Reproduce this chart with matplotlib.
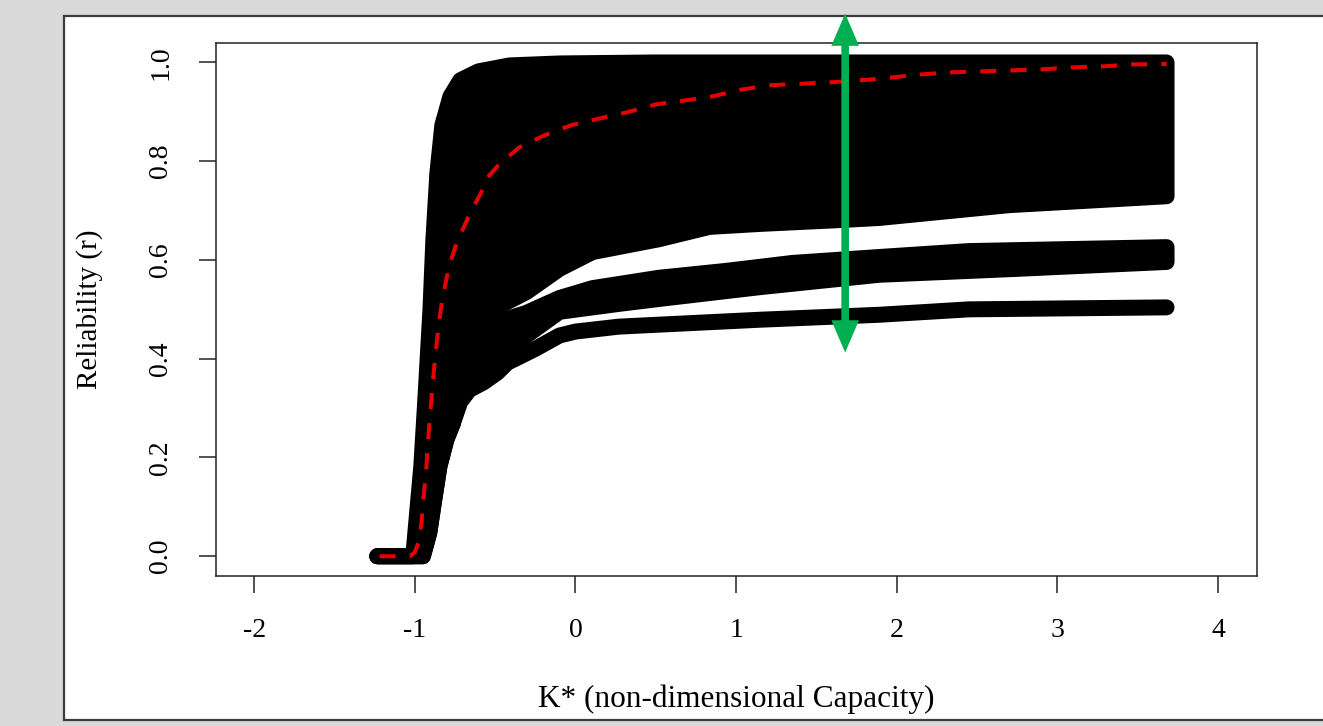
import numpy as np
import matplotlib
matplotlib.use("Agg")
import matplotlib.pyplot as plt
from matplotlib.patches import Rectangle

# ---------------- data ----------------
# Upper envelope of the family of reliability curves
K_top = [-1.234, -1.01, -0.997, -0.96, -0.935, -0.903, -0.885, -0.860, -0.829,
         -0.779, -0.717, -0.604, -0.411, -0.1, 0.5, 1.5, 2.5, 3.68]
r_top = [0.0, 0.0, 0.048, 0.182, 0.317, 0.50, 0.640, 0.776, 0.873,
         0.931, 0.964, 0.982, 0.994, 0.998, 1.0, 1.0, 1.0, 1.0]

# Lower edge of the main (upper) group of curves
K_main_low = [-1.234, -0.95, -0.91, -0.879, -0.847, -0.804, -0.766, -0.717, -0.66,
              -0.573, -0.46, -0.305, -0.1, 0.106, 0.52, 0.835, 1.15, 1.66, 1.89,
              2.70, 3.68]
r_main_low = [0.0, 0.0, 0.048, 0.115, 0.182, 0.236, 0.267, 0.37, 0.42,
              0.465, 0.509, 0.535, 0.582, 0.616, 0.642, 0.667, 0.673, 0.681, 0.685,
              0.711, 0.729]

# Middle group of curves (upper and lower edge)
K_mid_high = [-0.766, -0.717, -0.66, -0.573, -0.46, -0.305, -0.1, 0.106, 0.52,
              0.94, 1.35, 1.89, 2.45, 3.68]
r_mid_high = [0.267, 0.36, 0.40, 0.44, 0.477, 0.493, 0.523, 0.543, 0.564,
              0.578, 0.594, 0.606, 0.618, 0.626]
K_mid_low = [-0.766, -0.717, -0.66, -0.573, -0.486, -0.36, -0.1, 0.27, 0.52,
             1.15, 1.89, 2.75, 3.68]
r_mid_low = [0.267, 0.33, 0.355, 0.375, 0.40, 0.434, 0.495, 0.511, 0.521,
             0.545, 0.570, 0.582, 0.596]

# Lowest curve
K_bottom = [-1.234, -0.95, -0.91, -0.879, -0.847, -0.804, -0.766, -0.717, -0.66,
            -0.573, -0.486, -0.424, -0.361, -0.25, -0.1, 0.0, 0.27, 0.52, 1.15,
            1.89, 2.45, 3.68]
r_bottom = [0.0, 0.0, 0.048, 0.115, 0.182, 0.236, 0.267, 0.313, 0.337,
            0.352, 0.372, 0.392, 0.402, 0.42, 0.447, 0.455, 0.465, 0.469, 0.479,
            0.489, 0.50, 0.504]

# Red dashed reference curve
K_red = [-1.22, -1.10, -1.03, -1.0, -0.975, -0.96, -0.946, -0.93, -0.92, -0.905,
         -0.89, -0.872, -0.853, -0.83, -0.785, -0.74, -0.667, -0.59, -0.55, -0.48,
         -0.35, -0.19, -0.025, 0.156, 0.32, 0.50, 0.68, 0.85, 1.03, 1.22, 1.41,
         1.60, 1.86, 2.16, 2.34, 2.53, 2.72, 2.90, 3.09, 3.28, 3.46, 3.68]
r_red = [0.0, 0.0, 0.0, 0.008, 0.03, 0.065, 0.119, 0.172, 0.226, 0.287,
         0.347, 0.408, 0.465, 0.52, 0.59, 0.634, 0.687, 0.735, 0.766, 0.792,
         0.828, 0.853, 0.873, 0.887, 0.899, 0.915, 0.923, 0.931, 0.945, 0.954, 0.957,
         0.960, 0.966, 0.976, 0.980, 0.982, 0.984, 0.986, 0.990, 0.992, 0.996, 0.997]

# Green range arrow (tip positions)
arrow_K = 1.679
arrow_r = [0.4126, 1.099]

x_ticks = [-2, -1, 0, 1, 2, 3, 4]
y_ticks = [0.0, 0.2, 0.4, 0.6, 0.8, 1.0]
y_tick_labels = ["0.0", "0.2", "0.4", "0.6", "0.8", "1.0"]
x_label = "K* (non-dimensional Capacity)"
y_label = "Reliability (r)"

# ---------------- figure ----------------
W, H = 1323, 726
fig = plt.figure(figsize=(W / 100, H / 100), dpi=100)
fig.patch.set_facecolor("#d9d9d9")
panel = Rectangle((64 / W, (H - 720) / H), (1335 - 64) / W, (720 - 15.5) / H,
                  transform=fig.transFigure, facecolor="white",
                  edgecolor="#3c3c3c", lw=1.6, zorder=-5)
fig.patches.append(panel)

left, right, top, bottom = 215.7, 1256.5, 42.7, 576.0
ax = fig.add_axes([left / W, (H - bottom) / H, (right - left) / W, (bottom - top) / H])
ax.set_zorder(1)
ax.set_xlim(-2.24, 4.24)
ax.set_ylim(-0.04, 1.04)

serif = ["Liberation Serif", "DejaVu Serif"]

lw_band = 11.5  # points (thick R-style markers)


def band(Ka, ra, Kb, rb):
    xs = np.concatenate([np.asarray(Ka), np.asarray(Kb)[::-1]])
    ys = np.concatenate([np.asarray(ra), np.asarray(rb)[::-1]])
    ax.fill(xs, ys, facecolor="black", edgecolor="black", lw=lw_band,
            joinstyle="round", capstyle="round", zorder=2)


band(K_top, r_top, K_main_low, r_main_low)
band(K_mid_high, r_mid_high, K_mid_low, r_mid_low)

ax.plot(K_bottom, r_bottom, color="black", lw=lw_band, solid_capstyle="round",
        solid_joinstyle="round", zorder=3)

ax.plot(K_red, r_red, color="#e60000", lw=2.9, dashes=(4.0, 3.5),
        dash_capstyle="butt", zorder=4)

ax.annotate("", xy=(arrow_K, arrow_r[0]), xytext=(arrow_K, arrow_r[1]),
            xycoords="data", textcoords="data", annotation_clip=False,
            arrowprops=dict(arrowstyle="<|-|>,head_length=13.5,head_width=5.8",
                            mutation_scale=1, color="#00b050", lw=5.5,
                            joinstyle="miter", capstyle="butt",
                            shrinkA=0, shrinkB=0), zorder=6)

# ---------------- axes styling ----------------
for s in ax.spines.values():
    s.set_linewidth(1.1)
    s.set_color("#222222")

ax.set_xticks(x_ticks)
ax.set_xticklabels([str(t) for t in x_ticks])
ax.set_yticks(y_ticks)
ax.set_yticklabels(y_tick_labels)
ax.tick_params(axis="both", direction="out", length=12.5, width=1.1, color="#222222")
ax.tick_params(axis="x", pad=18)
ax.tick_params(axis="y", pad=18)
for lab in ax.get_xticklabels():
    lab.set_fontfamily(serif)
    lab.set_fontsize(20)
for lab in ax.get_yticklabels():
    lab.set_fontfamily(serif)
    lab.set_fontsize(20)
    lab.set_rotation(90)
    lab.set_va("center")
    lab.set_ha("right")

ax.set_xlabel(x_label, fontsize=22.5, family=serif)
ax.xaxis.set_label_coords(0.5, -0.232)
ax.xaxis.label.set_va("center")
ax.set_ylabel(y_label, fontsize=21, family=serif)
ax.yaxis.set_label_coords(-0.1215, 0.5)
ax.yaxis.label.set_va("center")

fig.savefig("out.png", dpi=100, facecolor=fig.get_facecolor())
